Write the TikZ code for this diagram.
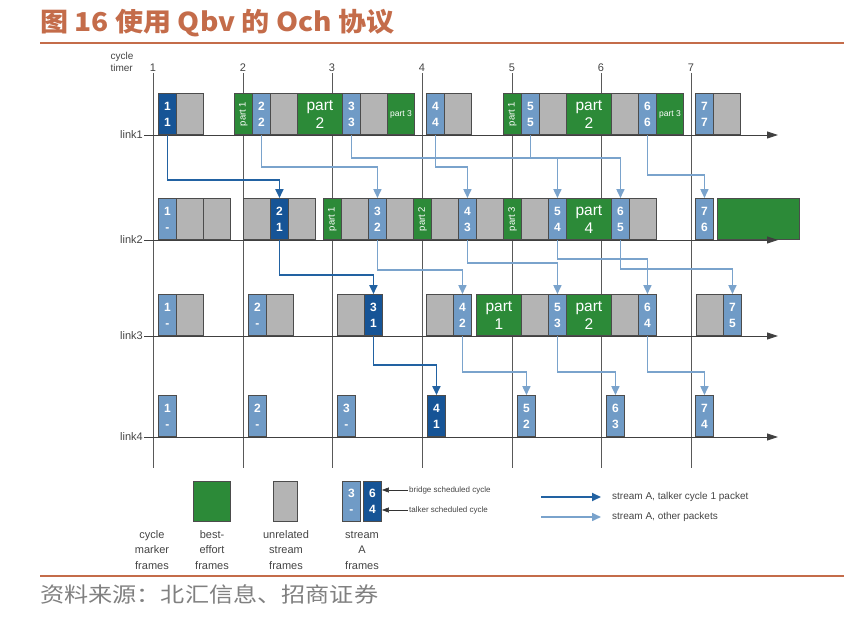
\documentclass[tikz,border=0pt]{standalone}
\usepackage{fontspec}
\setmainfont{Liberation Sans}
\newfontfamily\cjk{Noto Sans CJK SC}
\usepackage{graphicx}
\usetikzlibrary{arrows.meta}
\usepackage{xcolor}
\definecolor{TalkerBlue}{RGB}{22,84,150}
\definecolor{StreamBlue}{RGB}{112,155,198}
\definecolor{BestGreen}{RGB}{44,138,56}
\definecolor{OtherGrey}{RGB}{180,180,180}
\definecolor{TalkerArrow}{RGB}{34,98,162}
\definecolor{StreamArrow}{RGB}{122,163,204}
\definecolor{TitleOrange}{RGB}{196,108,74}
\definecolor{LabelGrey}{RGB}{68,68,68}

\tikzset{
  slot/.style={draw=black!70, line width=0.9pt, anchor=south west, minimum height=41pt,
    inner sep=0pt, text=white, align=center, font=\fontsize{12}{16}\selectfont\bfseries},
  talkerbox/.style={slot, fill=TalkerBlue, minimum width=18pt},
  streambox/.style={slot, fill=StreamBlue, minimum width=18pt},
  otherbox/.style={slot, fill=OtherGrey, minimum width=27pt},
  bestbox/.style={slot, fill=BestGreen, minimum width=#1},
  bestbox/.default=27pt,
  partbig/.style={font=\fontsize{15.5}{18}\selectfont},
  partsmall/.style={font=\fontsize{8.5}{9}\selectfont},
  partrot/.style={font=\fontsize{9.5}{10}\selectfont},
  talker/.style={draw=TalkerArrow, line width=1.8pt, ->},
  other/.style={draw=StreamArrow, line width=1.6pt, ->},
  axis/.style={draw=black!75, line width=0.9pt, -{Triangle[width=7pt,length=11pt]}},
  tick/.style={draw=black!65, line width=0.9pt},
  lab/.style={text=LabelGrey, font=\fontsize{11}{15.5}\selectfont, align=center},
  note/.style={draw=black!80, line width=0.6pt, -{Triangle[width=5pt,length=7pt]}}
}

\begin{document}
\begin{tikzpicture}[x=1pt, y=-1pt, >={Triangle[width=8pt,length=9pt]}]
  \useasboundingbox (0,0) rectangle (844,617);

  % title and source
  \node (TT) [anchor=west, inner sep=0pt, text=TitleOrange] at (40,23)
    {\scalebox{1.08}[1]{\cjk\bfseries\fontsize{26}{26}\selectfont 图 16 使用 Qbv 的 Och 协议}};
  \draw[TitleOrange, line width=2.5pt] (40,43) -- (844,43);
  \draw[TitleOrange, line width=2.5pt] (40,576) -- (844,576);
  \node (SRC) [anchor=west, inner sep=0pt, text=black!50] at (40,594)
    {\scalebox{1.15}[1]{\cjk\fontsize{21}{21}\selectfont 资料来源：北汇信息、招商证券}};

  % cycle timer
  \node (CT) [lab, anchor=west, align=left, font=\fontsize{10}{12}\selectfont] at (107,62) {cycle\\timer};
  \foreach \i/\x in {1/153, 2/243, 3/332, 4/422, 5/512, 6/601, 7/691} {
    \node (T\i) [lab, inner sep=1pt] at (\x,68) {\i};
    \draw[tick] (T\i.south) -- ++(0,395);
  }

  % link labels
  \node (K1) [lab, anchor=east, inner sep=1pt] at (144,135) {link1};
  \node (K2) [lab, anchor=east, inner sep=1pt] at (144,240) {link2};
  \node (K3) [lab, anchor=east, inner sep=1pt] at (144,336) {link3};
  \node (K4) [lab, anchor=east, inner sep=1pt] at (144,437) {link4};
  \coordinate (E1) at (778,135);
  \coordinate (E2) at (778,240);
  \coordinate (E3) at (778,336);
  \coordinate (E4) at (778,437);

  % link1
  \node (L1C1) [talkerbox] at (158,135) {1\\1};
  \node (L1G1) [otherbox] at (176,135) {};
  \node (L1P1) [bestbox=18pt, partrot] at (234,135) {\rotatebox{90}{part 1}};
  \node (L1C2) [streambox] at (252,135) {2\\2};
  \node (L1G2) [otherbox] at (270,135) {};
  \node (L1P2) [bestbox=45pt, partbig] at (297,135) {part\\2};
  \node (L1C3) [streambox] at (342,135) {3\\3};
  \node (L1G3) [otherbox] at (360,135) {};
  \node (L1P3) [bestbox, partsmall] at (387,135) {part 3};
  \node (L1C4) [streambox] at (426,135) {4\\4};
  \node (L1G4) [otherbox] at (444,135) {};
  \node (L1P4) [bestbox=18pt, partrot] at (503,135) {\rotatebox{90}{part 1}};
  \node (L1C5) [streambox] at (521,135) {5\\5};
  \node (L1G5) [otherbox] at (539,135) {};
  \node (L1P5) [bestbox=45pt, partbig] at (566,135) {part\\2};
  \node (L1G6) [otherbox] at (611,135) {};
  \node (L1C6) [streambox] at (638,135) {6\\6};
  \node (L1P6) [bestbox, partsmall] at (656,135) {part 3};
  \node (L1C7) [streambox] at (695,135) {7\\7};
  \node (L1G7) [otherbox] at (713,135) {};

  % link2
  \node (L2C1) [streambox] at (158,240) {1\\-};
  \node (L2G1) [otherbox] at (176,240) {};
  \node (L2G2) [otherbox] at (203,240) {};
  \node (L2G3) [otherbox] at (243,240) {};
  \node (L2C2) [talkerbox] at (270,240) {2\\1};
  \node (L2G4) [otherbox] at (288,240) {};
  \node (L2P1) [bestbox=18pt, partrot] at (323,240) {\rotatebox{90}{part 1}};
  \node (L2G5) [otherbox] at (341,240) {};
  \node (L2C3) [streambox] at (368,240) {3\\2};
  \node (L2G6) [otherbox] at (386,240) {};
  \node (L2P2) [bestbox=18pt, partrot] at (413,240) {\rotatebox{90}{part 2}};
  \node (L2G7) [otherbox] at (431,240) {};
  \node (L2C4) [streambox] at (458,240) {4\\3};
  \node (L2G8) [otherbox] at (476,240) {};
  \node (L2P3) [bestbox=18pt, partrot] at (503,240) {\rotatebox{90}{part 3}};
  \node (L2G9) [otherbox] at (521,240) {};
  \node (L2C5) [streambox] at (548,240) {5\\4};
  \node (L2P4) [bestbox=45pt, partbig] at (566,240) {part\\4};
  \node (L2C6) [streambox] at (611,240) {6\\5};
  \node (L2G10) [otherbox] at (629,240) {};
  \node (L2C7) [streambox] at (695,240) {7\\6};
  \node (L2P5) [bestbox=82pt] at (717,240) {};

  % link3
  \node (L3C1) [streambox] at (158,336) {1\\-};
  \node (L3G1) [otherbox] at (176,336) {};
  \node (L3C2) [streambox] at (248,336) {2\\-};
  \node (L3G2) [otherbox] at (266,336) {};
  \node (L3G3) [otherbox] at (337,336) {};
  \node (L3C3) [talkerbox] at (364,336) {3\\1};
  \node (L3G4) [otherbox] at (426,336) {};
  \node (L3C4) [streambox] at (453,336) {4\\2};
  \node (L3P1) [bestbox=45pt, partbig] at (476,336) {part\\1};
  \node (L3G5) [otherbox] at (521,336) {};
  \node (L3C5) [streambox] at (548,336) {5\\3};
  \node (L3P2) [bestbox=45pt, partbig] at (566,336) {part\\2};
  \node (L3G6) [otherbox] at (611,336) {};
  \node (L3C6) [streambox] at (638,336) {6\\4};
  \node (L3G7) [otherbox] at (696,336) {};
  \node (L3C7) [streambox] at (723,336) {7\\5};

  % link4
  \node (L4C1) [streambox] at (158,437) {1\\-};
  \node (L4C2) [streambox] at (248,437) {2\\-};
  \node (L4C3) [streambox] at (337,437) {3\\-};
  \node (L4C4) [talkerbox] at (427,437) {4\\1};
  \node (L4C5) [streambox] at (517,437) {5\\2};
  \node (L4C6) [streambox] at (606,437) {6\\3};
  \node (L4C7) [streambox] at (695,437) {7\\4};

  \draw[axis] (K1.east) -- (E1);
  \draw[axis] (K2.east) -- (E2);
  \draw[axis] (K3.east) -- (E3);
  \draw[axis] (K4.east) -- (E4);

  % talker cycle 1 packet
  \draw[talker] (L1C1.south) -- ++(0,45) -| (L2C2.north);
  \draw[talker] (L2C2.south) -- ++(0,35) -| (L3C3.north);
  \draw[talker] (L3C3.south) -- ++(0,29) -| (L4C4.north);

  % other packets
  \draw[other] (L1C2.south) -- ++(0,32) -| (L2C3.north);
  \draw[other] (L1C3.south) -- ++(0,23) -| (L2C5.north);
  \draw[other] (L1C4.south) -- ++(0,32) -| (L2C4.north);
  \draw[other] (L1C5.south) -- ++(0,23) -| (L2C6.north);
  \draw[other] (L1C6.south) -- ++(0,40) -| (L2C7.north);
  \draw[other] (L2C3.south) -- ++(0,30) -| (L3C4.north);
  \draw[other] (L2C4.south) -- ++(0,23) -| (L3C5.north);
  \draw[other] (L2C5.south) -- ++(0,19) -| (L3C6.north);
  \draw[other] (L2C6.south) -- ++(0,29) -| (L3C7.north);
  \draw[other] (L3C4.south) -- ++(0,36) -| (L4C5.north);
  \draw[other] (L3C5.south) -- ++(0,36) -| (L4C6.north);
  \draw[other] (L3C6.south) -- ++(0,36) -| (L4C7.north);

  % legend
  \node (LG1) [bestbox=37pt, minimum height=40pt] at (193,522) {};
  \node (LG2) [otherbox, minimum width=24pt, minimum height=40pt] at (273,522) {};
  \node (LG3) [streambox, minimum height=40pt] at (342,522) {3\\-};
  \node (LG4) [talkerbox, minimum height=40pt] at (363,522) {6\\4};
  \node (N1) [lab] at (152,550) {cycle\\marker\\frames};
  \node (N2) [lab] at (212,550) {best-\\effort\\frames};
  \node (N3) [lab] at (286,550) {unrelated\\stream\\frames};
  \node (N4) [lab] at (362,550) {stream\\A\\frames};
  \node (B1) [anchor=west, inner sep=1pt, text=LabelGrey, font=\fontsize{8}{9}\selectfont] at (408,490) {bridge scheduled cycle};
  \node (B2) [anchor=west, inner sep=1pt, text=LabelGrey, font=\fontsize{8}{9}\selectfont] at (408,510) {talker scheduled cycle};
  \draw[note] (B1.west) -- (LG4.east |- B1.west);
  \draw[note] (B2.west) -- (LG4.east |- B2.west);

  \coordinate (P1) at (541,497);
  \coordinate (P2) at (541,517);
  \node (Q1) [anchor=west, inner sep=0pt, text=LabelGrey, font=\fontsize{10}{12}\selectfont] at (612,497) {stream A, talker cycle 1 packet};
  \node (Q2) [anchor=west, inner sep=0pt, text=LabelGrey, font=\fontsize{10}{12}\selectfont] at (612,517) {stream A, other packets};
  \draw[talker, shorten >=11pt] (P1) -- (Q1.west);
  \draw[other, shorten >=11pt] (P2) -- (Q2.west);
\end{tikzpicture}
\end{document}
